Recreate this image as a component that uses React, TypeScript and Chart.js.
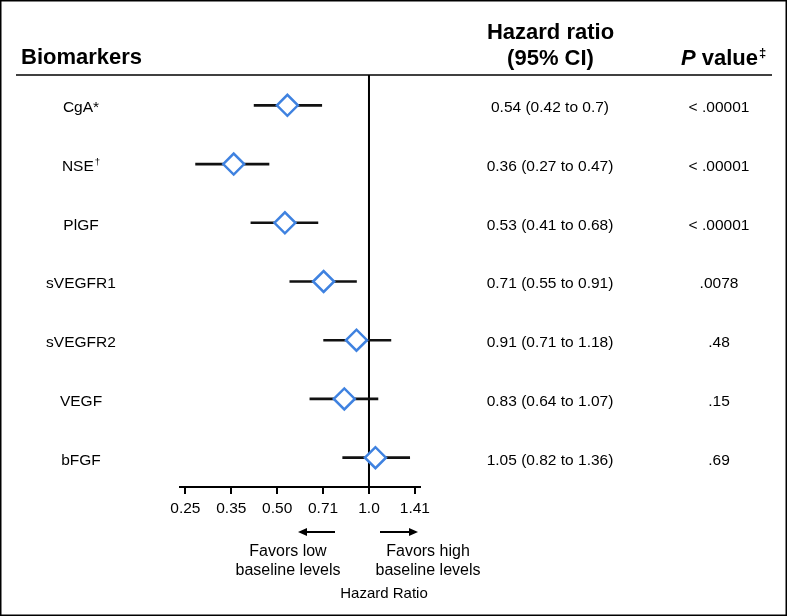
import React, { useEffect, useRef } from "react";
import { Chart, registerables } from "chart.js";

Chart.register(...registerables);

// ---- data ----
const biomarkers = ["CgA*", "NSE†", "PlGF", "sVEGFR1", "sVEGFR2", "VEGF", "bFGF"];
const hazardRatio = [0.54, 0.36, 0.53, 0.71, 0.91, 0.83, 1.05];
const ciLower = [0.42, 0.27, 0.41, 0.55, 0.71, 0.64, 0.82];
const ciUpper = [0.7, 0.47, 0.68, 0.91, 1.18, 1.07, 1.36];
const pValues = ["< .00001", "< .00001", "< .00001", ".0078", ".48", ".15", ".69"];
const tickValues = [0.25, 0.3536, 0.5, 0.7071, 1.0, 1.4142];
const tickLabels = ["0.25", "0.35", "0.50", "0.71", "1.0", "1.41"];
const axisMin = 0.24;
const axisMax = 1.47;
const referenceValue = 1.0;

const FONT = '"Liberation Sans", Arial, Helvetica, sans-serif';
const INK = "#000";
const DIAMOND = "#3f82e0";

function drawLabel(ctx: CanvasRenderingContext2D, text: string, cx: number, cy: number, size: number, weight = "normal") {
  const last = text.slice(-1);
  let main = text;
  let sup = "";
  if (last === "†" || last === "‡") {
    main = text.slice(0, -1);
    sup = last;
  }
  ctx.font = `${weight} ${size}px ${FONT}`;
  const w = ctx.measureText(main).width;
  ctx.font = `${weight} ${size * 0.62}px ${FONT}`;
  const ws = sup ? ctx.measureText(sup).width + 1 : 0;
  const start = cx - (w + ws) / 2;
  ctx.textAlign = "left";
  ctx.textBaseline = "middle";
  ctx.font = `${weight} ${size}px ${FONT}`;
  ctx.fillText(main, start, cy);
  if (sup) {
    ctx.font = `${weight} ${size * 0.62}px ${FONT}`;
    ctx.fillText(sup, start + w + 1, cy - size * 0.3);
  }
}

function arrow(ctx: CanvasRenderingContext2D, x1: number, x2: number, y: number) {
  // arrow from x1 (tail) to x2 (head)
  const dir = Math.sign(x2 - x1);
  ctx.beginPath();
  ctx.moveTo(x1, y);
  ctx.lineTo(x2 - dir * 6, y);
  ctx.lineWidth = 2;
  ctx.strokeStyle = INK;
  ctx.stroke();
  ctx.beginPath();
  ctx.moveTo(x2, y);
  ctx.lineTo(x2 - dir * 9, y - 4);
  ctx.lineTo(x2 - dir * 9, y + 4);
  ctx.closePath();
  ctx.fillStyle = INK;
  ctx.fill();
}

const decorPlugin = {
  id: "forestDecor",
  beforeDraw(chart: any) {
    const ctx = chart.ctx as CanvasRenderingContext2D;
    ctx.save();
    ctx.fillStyle = "#fff";
    ctx.fillRect(0, 0, chart.width, chart.height);
    ctx.restore();
  },
  beforeDatasetsDraw(chart: any) {
    const ctx = chart.ctx as CanvasRenderingContext2D;
    const { top, bottom } = chart.chartArea;
    const x = chart.scales.x.getPixelForValue(referenceValue);
    ctx.save();
    ctx.beginPath();
    ctx.moveTo(x, top - 1);
    ctx.lineTo(x, bottom);
    ctx.lineWidth = 2;
    ctx.strokeStyle = INK;
    ctx.stroke();
    ctx.restore();
  },
  afterDraw(chart: any) {
    const ctx = chart.ctx as CanvasRenderingContext2D;
    const yScale = chart.scales.y;
    ctx.save();
    ctx.fillStyle = INK;
    ctx.strokeStyle = INK;

    // outer frame
    ctx.lineWidth = 1.5;
    ctx.strokeRect(0.75, 0.75, chart.width - 1.5, chart.height - 1.5);

    // header line
    ctx.beginPath();
    ctx.moveTo(16, 75);
    ctx.lineTo(772, 75);
    ctx.lineWidth = 1.5;
    ctx.stroke();

    // headers
    ctx.textBaseline = "alphabetic";
    ctx.font = `bold 22px ${FONT}`;
    ctx.textAlign = "left";
    ctx.fillText("Biomarkers", 21, 64);
    ctx.textAlign = "center";
    ctx.fillText("Hazard ratio", 550.5, 38.5);
    ctx.fillText("(95% CI)", 550.5, 65);

    ctx.font = `italic bold 22px ${FONT}`;
    const wP = ctx.measureText("P").width;
    ctx.font = `bold 22px ${FONT}`;
    const wV = ctx.measureText(" value").width;
    const pStart = 719.5 - (wP + wV) / 2;
    ctx.textAlign = "left";
    ctx.font = `italic bold 22px ${FONT}`;
    ctx.fillText("P", pStart, 65);
    ctx.font = `bold 22px ${FONT}`;
    ctx.fillText(" value", pStart + wP, 65);
    ctx.font = `bold 13px ${FONT}`;
    ctx.fillText("‡", pStart + wP + wV + 1, 57);

    // rows
    biomarkers.forEach((name, i) => {
      const y = yScale.getPixelForValue(i) + 2.6;
      drawLabel(ctx, name, 81, y, 15.5);
      ctx.font = `15.5px ${FONT}`;
      ctx.textAlign = "center";
      ctx.textBaseline = "middle";
      ctx.fillText(`${hazardRatio[i]} (${ciLower[i]} to ${ciUpper[i]})`, 550, y);
      ctx.fillText(pValues[i], 719, y);
    });

    // direction arrows and captions
    arrow(ctx, 335, 298, 532);
    arrow(ctx, 380, 418, 532);
    ctx.textAlign = "center";
    ctx.textBaseline = "alphabetic";
    ctx.font = `16px ${FONT}`;
    ctx.fillText("Favors low", 288, 556);
    ctx.fillText("baseline levels", 288, 574.5);
    ctx.fillText("Favors high", 428, 556);
    ctx.fillText("baseline levels", 428, 574.5);
    ctx.font = `15px ${FONT}`;
    ctx.fillText("Hazard Ratio", 384, 598);
    ctx.restore();
  },
};

export default function App() {
  const canvasRef = useRef<HTMLCanvasElement | null>(null);

  useEffect(() => {
    const canvas = canvasRef.current;
    if (!canvas) return;
    Chart.defaults.font.family = FONT;
    const chart = new Chart(canvas, {
      type: "bar",
      data: {
        labels: biomarkers,
        datasets: [
          {
            type: "line",
            label: "Hazard ratio",
            data: hazardRatio,
            indexAxis: "y",
            showLine: false,
            pointStyle: "rectRot",
            pointRadius: 10.5,
            pointHoverRadius: 10.5,
            pointBorderWidth: 2.5,
            pointBorderColor: DIAMOND,
            pointBackgroundColor: "#fff",
            order: 1,
            clip: false,
          } as any,
          {
            type: "bar",
            label: "95% CI",
            data: ciLower.map((lo, i) => [lo, ciUpper[i]]),
            indexAxis: "y",
            backgroundColor: "#111",
            borderWidth: 0,
            barThickness: 2,
            order: 2,
          } as any,
        ],
      },
      options: {
        indexAxis: "y",
        responsive: false,
        animation: false,
        events: [],
        layout: { padding: { left: 180, right: 367, top: 76, bottom: 0 } },
        plugins: { legend: { display: false }, tooltip: { enabled: false } },
        scales: {
          y: {
            type: "category",
            display: false,
            offset: true,
            grid: { display: false },
          },
          x: {
            type: "logarithmic",
            min: axisMin,
            max: axisMax,
            bounds: "data",
            afterBuildTicks: (scale: any) => {
              scale.ticks = tickValues.map((v) => ({ value: v }));
            },
            afterFit: (scale: any) => {
              scale.height = 129;
            },
            ticks: {
              callback: (_v: any, i: number) => tickLabels[i],
              autoSkip: false,
              maxRotation: 0,
              minRotation: 0,
              color: INK,
              padding: 5.5,
              font: { size: 15.5, family: FONT },
            },
            grid: {
              display: true,
              drawOnChartArea: false,
              drawTicks: true,
              tickLength: 7,
              lineWidth: 2,
              color: INK,
            },
            border: { display: true, width: 2, color: INK },
          } as any,
        },
      },
      plugins: [decorPlugin],
    });
    return () => chart.destroy();
  }, []);

  return (
    <div style={{ position: "absolute", left: 0, top: 0, width: 787, height: 616 }}>
      <canvas ref={canvasRef} width={787} height={616} style={{ display: "block" }} />
    </div>
  );
}
